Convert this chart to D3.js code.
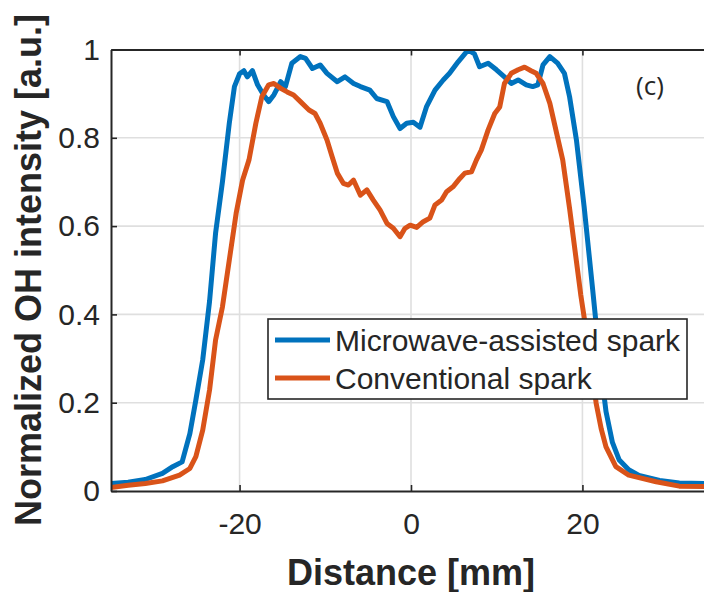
<!DOCTYPE html>
<html>
<head>
<meta charset="utf-8">
<script src="https://cdn.jsdelivr.net/npm/d3@7"></script>
<style>
  body { margin: 0; background: #fff; }
  text { font-family: "Liberation Sans", Arial, sans-serif; fill: #262626; }
</style>
</head>
<body>
<div id="chart"></div>
<script>
// distance [mm] and normalized OH intensity
let microwaveX = [-35, -33, -31, -29, -27.8, -26.7, -25.8, -25.1, -24.3, -23.5, -22.8, -22.0, -21.2, -20.6, -20.0,
  -19.5, -19.1, -18.5, -17.9, -17.2, -16.6, -16.0, -15.2, -14.65, -13.9, -12.9, -12.3, -11.5, -10.6, -9.8,
  -8.6, -7.7, -6.7, -5.9, -4.8, -4.0, -2.8, -2.06, -1.28, -0.5, 0.27, 1.05, 1.8, 2.8, 3.76,
  4.5, 5.5, 6.66, 7.4, 8.0, 9.0, 9.97, 10.9, 11.7, 12.5, 13.45, 14.2, 14.8, 15.4, 16.2,
  17.1, 17.9, 18.5, 19.3, 20.2, 21.2, 22.0, 22.75, 23.5, 24.3, 25.4, 26.6, 29.0, 31.3, 35];
let microwaveY = [0.017, 0.02, 0.026, 0.04, 0.055, 0.066, 0.13, 0.206, 0.297, 0.43, 0.584, 0.70, 0.833, 0.916, 0.945,
  0.952, 0.938, 0.952, 0.92, 0.897, 0.882, 0.897, 0.927, 0.916, 0.969, 0.984, 0.98, 0.957, 0.965, 0.946,
  0.927, 0.938, 0.923, 0.916, 0.908, 0.889, 0.882, 0.848, 0.821, 0.833, 0.835, 0.824, 0.87, 0.908, 0.931,
  0.946, 0.972, 0.999, 0.99, 0.961, 0.969, 0.954, 0.938, 0.923, 0.931, 0.92, 0.916, 0.92, 0.965, 0.984,
  0.969, 0.946, 0.893, 0.795, 0.644, 0.455, 0.30, 0.18, 0.11, 0.07, 0.048, 0.035, 0.024, 0.018, 0.017];

let conventionalX = [-35, -33, -31, -29, -27, -25.8, -25.1, -24.3, -23.5, -22.8, -22.0, -21.2, -20.4, -19.65, -18.9,
  -18.1, -17.4, -16.6, -16.0, -15.2, -14.45, -13.7, -12.9, -11.9, -11.2, -10.6, -9.8, -9.2, -8.6, -7.9,
  -7.3, -6.7, -5.9, -5.15, -4.4, -3.6, -2.8, -2.06, -1.28, -0.7, -0.1, 0.66, 1.43, 2.2, 2.8,
  3.57, 4.15, 4.9, 5.7, 6.28, 7.06, 7.64, 8.2, 9.0, 9.77, 10.35, 10.9, 11.7, 12.5, 13.25,
  14.0, 14.6, 15.4, 16.2, 16.9, 17.7, 18.5, 19.3, 19.8, 20.7, 21.6, 22.2, 22.75, 23.9, 25.4,
  28.6, 31.3, 35];
let conventionalY = [0.008, 0.013, 0.017, 0.023, 0.036, 0.051, 0.078, 0.138, 0.229, 0.342, 0.417, 0.523, 0.629, 0.704, 0.75,
  0.833, 0.893, 0.92, 0.923, 0.912, 0.904, 0.897, 0.882, 0.863, 0.855, 0.833, 0.795, 0.757, 0.72, 0.697,
  0.693, 0.704, 0.67, 0.682, 0.659, 0.636, 0.606, 0.595, 0.576, 0.595, 0.602, 0.597, 0.61, 0.618, 0.648,
  0.659, 0.678, 0.689, 0.708, 0.72, 0.723, 0.75, 0.772, 0.818, 0.855, 0.87, 0.923, 0.946, 0.954, 0.96,
  0.952, 0.946, 0.923, 0.878, 0.818, 0.75, 0.64, 0.52, 0.445, 0.33, 0.199, 0.14, 0.10, 0.055, 0.036,
  0.021, 0.011, 0.01];

let seriesNames = ["Microwave-assisted spark", "Conventional spark"];
let seriesColors = ["#0072BD", "#D95319"];

let xTicks = [-20, 0, 20];
let yTicks = [0, 0.2, 0.4, 0.6, 0.8, 1];
let yTickLabels = ["0", "0.2", "0.4", "0.6", "0.8", "1"];

// chart dimensions
let svgWidth = 704;
let svgHeight = 592;
let plot = { left: 111, right: 711, top: 49.5, bottom: 491 };

let xScale = d3.scaleLinear().domain([-35, 35]).range([plot.left, plot.right]);
let yScale = d3.scaleLinear().domain([0, 1]).range([plot.bottom, plot.top]);

let svg = d3.select("#chart").append("svg")
  .attr("width", svgWidth)
  .attr("height", svgHeight)
  .style("display", "block");

svg.append("defs").append("clipPath").attr("id", "clip")
  .append("rect")
  .attr("x", plot.left).attr("y", plot.top)
  .attr("width", plot.right - plot.left).attr("height", plot.bottom - plot.top);

// grid lines
let grid = svg.append("g");
grid.selectAll(".gx").data(xTicks).enter().append("line")
  .attr("x1", function(d) { return xScale(d); })
  .attr("x2", function(d) { return xScale(d); })
  .attr("y1", plot.top).attr("y2", plot.bottom)
  .attr("stroke", "#dfdfdf").attr("stroke-width", 1.6);
grid.selectAll(".gy").data(yTicks.slice(1, -1)).enter().append("line")
  .attr("x1", plot.left).attr("x2", plot.right)
  .attr("y1", function(d) { return yScale(d); })
  .attr("y2", function(d) { return yScale(d); })
  .attr("stroke", "#dfdfdf").attr("stroke-width", 1.6);

// the two profiles
let line = d3.line()
  .x(function(d) { return xScale(d[0]); })
  .y(function(d) { return yScale(d[1]); });

let series = [
  d3.zip(microwaveX, microwaveY),
  d3.zip(conventionalX, conventionalY)
];

svg.append("g").attr("clip-path", "url(#clip)")
  .selectAll("path").data(series).enter().append("path")
  .attr("d", line)
  .attr("fill", "none")
  .attr("stroke", function(d, i) { return seriesColors[i]; })
  .attr("stroke-width", 5)
  .attr("stroke-linejoin", "round");

// axes (ticks point inward like matlab)
function styleAxis(g) {
  g.selectAll(".domain").attr("stroke", "#262626").attr("stroke-width", 2);
  g.selectAll(".tick line").attr("stroke", "#262626").attr("stroke-width", 1.6);
  g.selectAll("text").style("font-size", "30px").attr("fill", "#262626");
}

svg.append("g")
  .attr("transform", "translate(0," + plot.bottom + ")")
  .call(d3.axisBottom(xScale).tickValues(xTicks).tickSizeInner(-6).tickSizeOuter(0).tickPadding(22)
    .tickFormat(function(d) { return d; }))
  .call(styleAxis);

svg.append("g")
  .attr("transform", "translate(0," + plot.top + ")")
  .call(d3.axisTop(xScale).tickValues(xTicks).tickSizeInner(-6).tickSizeOuter(0).tickFormat(""))
  .call(styleAxis);

svg.append("g")
  .attr("transform", "translate(" + plot.left + ",0)")
  .call(d3.axisLeft(yScale).tickValues(yTicks).tickSizeInner(-6).tickSizeOuter(0).tickPadding(11)
    .tickFormat(function(d, i) { return yTickLabels[i]; }))
  .call(styleAxis);

svg.append("g")
  .attr("transform", "translate(" + plot.right + ",0)")
  .call(d3.axisRight(yScale).tickValues(yTicks).tickSizeInner(-6).tickSizeOuter(0).tickFormat(""))
  .call(styleAxis);

// axis titles
svg.append("text")
  .attr("x", 411).attr("y", 585)
  .attr("text-anchor", "middle")
  .style("font-size", "36px").style("font-weight", "bold")
  .text("Distance [mm]");

svg.append("text")
  .attr("transform", "translate(41," + 270 + ") rotate(-90)")
  .attr("text-anchor", "middle")
  .style("font-size", "36px").style("font-weight", "bold")
  .text("Normalized OH intensity [a.u.]");

// panel label
svg.append("text")
  .attr("x", 650).attr("y", 86)
  .attr("text-anchor", "middle").attr("dy", "0.35em")
  .style("font-family", "'Open Sans', sans-serif").style("font-size", "26px").attr("fill", "#000")
  .text("(c)");

// legend
let legend = svg.append("g");
legend.append("rect")
  .attr("x", 268).attr("y", 319).attr("width", 419).attr("height", 80)
  .attr("fill", "#fff").attr("stroke", "#262626").attr("stroke-width", 1.6);

let legendRows = [340, 378];
seriesNames.forEach(function(name, i) {
  legend.append("line")
    .attr("x1", 275).attr("x2", 330)
    .attr("y1", legendRows[i]).attr("y2", legendRows[i])
    .attr("stroke", seriesColors[i]).attr("stroke-width", 5);
  legend.append("text")
    .attr("x", 335).attr("y", legendRows[i]).attr("dy", "0.35em")
    .style("font-size", "30px")
    .text(name);
});
</script>
</body>
</html>
